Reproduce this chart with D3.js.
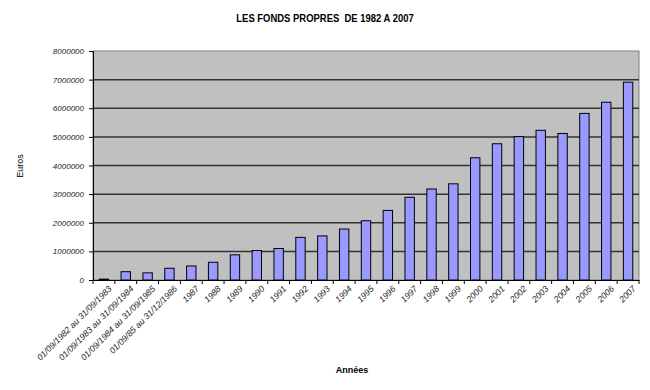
<!DOCTYPE html>
<html>
<head>
<meta charset="utf-8">
<script src="https://cdn.jsdelivr.net/npm/d3@7/dist/d3.min.js"></script>
<style>
  body { margin: 0; background: #fff; }
  svg { display: block; }
  .tick text { font-family: Arial, "Liberation Sans", sans-serif; font-size: 8px; font-style: italic; fill: #222; }
  .x.axis .tick text { font-size: 8.7px; }
</style>
</head>
<body>
<svg id="chart" width="650" height="390"></svg>
<script>
// categories and values
var categories = ["01/09/1982 au 31/09/1983", "01/09/1983 au 31/09/1984", "01/09/1984 au 31/09/1985", "01/09/85 au 31/12/1986",
  "1987", "1988", "1989", "1990", "1991", "1992", "1993", "1994", "1995", "1996", "1997",
  "1998", "1999", "2000", "2001", "2002", "2003", "2004", "2005", "2006", "2007"];
var values = [30000, 290000, 250000, 410000, 490000, 620000, 880000, 1030000, 1100000, 1490000, 1540000,
  1780000, 2070000, 2430000, 2890000, 3180000, 3360000, 4270000, 4760000, 5010000, 5230000,
  5120000, 5820000, 6210000, 6910000];
var yTicks = [0, 1000000, 2000000, 3000000, 4000000, 5000000, 6000000, 7000000, 8000000];

var margin = { top: 51, right: 11, bottom: 110, left: 93 };
var width = 650 - margin.left - margin.right;
var height = 390 - margin.top - margin.bottom;

var svg = d3.select("#chart");
var g = svg.append("g").attr("transform", "translate(" + margin.left + "," + margin.top + ")");

var x = d3.scaleBand().domain(categories).range([0, width]).paddingInner(0.57).paddingOuter(0.285);
var y = d3.scaleLinear().domain([0, 8000000]).range([height, 0]);

// plot area
g.append("rect").attr("width", width).attr("height", height)
    .attr("fill", "#c0c0c0").attr("stroke", "#808080").attr("stroke-width", 1);

// grid lines
g.selectAll(".grid").data(yTicks.slice(1, -1)).enter().append("line")
    .attr("x1", 0).attr("x2", width)
    .attr("y1", function (d) { return y(d); }).attr("y2", function (d) { return y(d); })
    .attr("stroke", "#333").attr("stroke-width", 1.5);

// bars
g.selectAll(".bar").data(values).enter().append("rect")
    .attr("class", "bar")
    .attr("x", function (d, i) { return x(categories[i]); })
    .attr("y", function (d) { return y(d); })
    .attr("width", x.bandwidth())
    .attr("height", function (d) { return height - y(d); })
    .attr("fill", "#9999ff").attr("stroke", "#000").attr("stroke-width", 1);

// y axis
var yAxis = g.append("g").attr("class", "y axis")
    .call(d3.axisLeft(y).tickValues(yTicks).tickFormat(d3.format("d")).tickSize(4).tickPadding(5));
yAxis.select(".domain").attr("stroke", "#000");

// x axis, ticks between categories
var step = x.step();
var xAxis = g.append("g").attr("class", "x axis").attr("transform", "translate(0," + height + ")")
    .call(d3.axisBottom(x).tickSize(0).tickPadding(8).tickSizeOuter(0));
xAxis.select(".domain").attr("stroke", "#000");
xAxis.selectAll(".tick text")
    .attr("text-anchor", "end")
    .attr("transform", "translate(-1,0) rotate(-45)")
    .attr("dy", "0.6em");
xAxis.selectAll(".sep").data(d3.range(categories.length + 1)).enter().append("line")
    .attr("x1", function (i) { return i * step; }).attr("x2", function (i) { return i * step; })
    .attr("y1", 0).attr("y2", 4).attr("stroke", "#000");

// titles
svg.append("text").attr("transform", "translate(325,22) scale(0.86,1)").attr("text-anchor", "middle")
    .style("font-family", "Arial, 'Liberation Sans', sans-serif").style("font-weight", "bold").style("font-size", "11px")
    .attr("xml:space", "preserve")
    .text("LES FONDS PROPRES  DE 1982 A 2007");
svg.append("text").attr("transform", "translate(23,166) rotate(-90)").attr("text-anchor", "middle")
    .style("font-family", "Arial, 'Liberation Sans', sans-serif").style("font-size", "9px")
    .text("Euros");
svg.append("text").attr("x", 352).attr("y", 373).attr("text-anchor", "middle")
    .style("font-family", "Arial, 'Liberation Sans', sans-serif").style("font-weight", "bold").style("font-size", "9px")
    .text("Années");
</script>
</body>
</html>
